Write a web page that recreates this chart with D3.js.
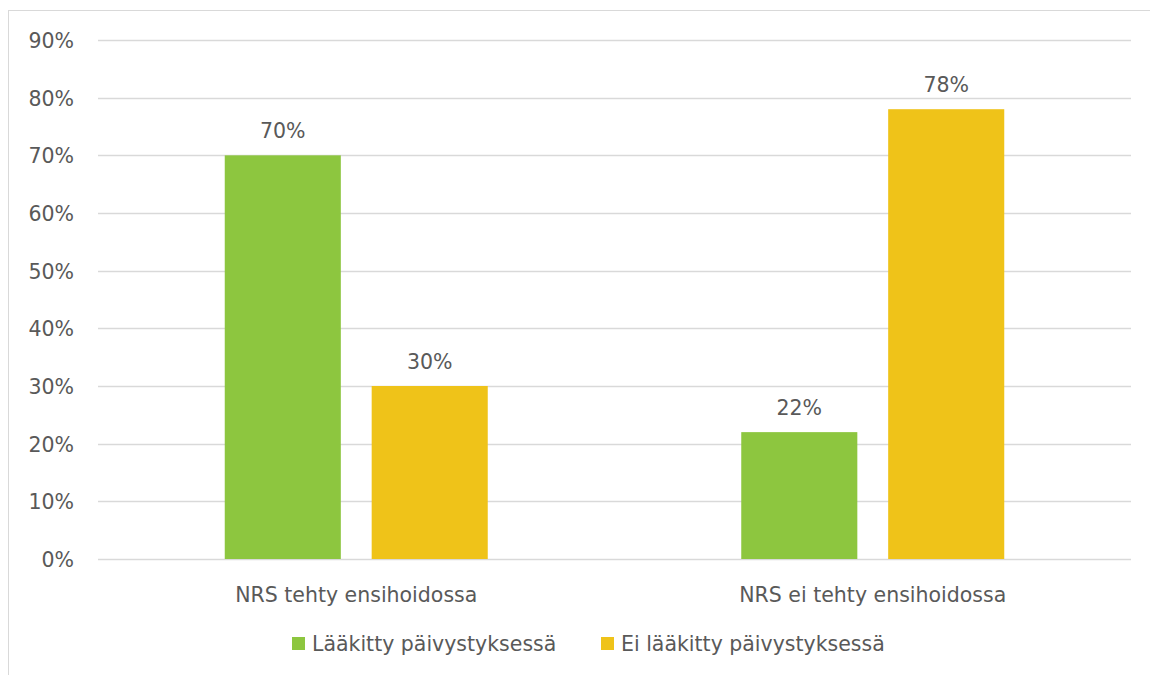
<!DOCTYPE html>
<html>
<head>
<meta charset="utf-8">
<script src="https://cdn.jsdelivr.net/npm/d3@7"></script>
<style>
  body { margin: 0; background: #fff; }
  text { font-family: "DejaVu Sans", Verdana, sans-serif; fill: #595959; }
</style>
</head>
<body>
<svg id="chart" width="1150" height="675"></svg>
<script>
// data
const categories = ['NRS tehty ensihoidossa', 'NRS ei tehty ensihoidossa']
const seriesNames = ['Lääkitty päivystyksessä', 'Ei lääkitty päivystyksessä']
const treated = [0.70, 0.22]
const notTreated = [0.30, 0.78]
const tickValues = [0, 0.1, 0.2, 0.3, 0.4, 0.5, 0.6, 0.7, 0.8, 0.9]
const colors = ['#8DC63F', '#EFC319']

const width = 1150
const height = 675
const margin = { top: 40, right: 19, bottom: 116, left: 98 }
const fontSize = 20.5

const svg = d3.select('#chart')

// outer frame
svg.append('rect')
  .attr('x', 8.5).attr('y', 10.5)
  .attr('width', width).attr('height', height)
  .attr('fill', 'none')
  .attr('stroke', '#d9d9d9')

const plotW = width - margin.left - margin.right
const plotH = height - margin.top - margin.bottom

const g = svg.append('g')
  .attr('transform', `translate(${margin.left},${margin.top})`)

const x0 = d3.scaleBand().domain(categories).range([0, plotW])
const x1 = d3.scaleBand().domain(seriesNames)
  .range([x0.bandwidth() / 2 - 131.5, x0.bandwidth() / 2 + 131.5])
  .paddingInner(0.21)
const y = d3.scaleLinear().domain([0, 0.9]).range([plotH, 0])

// grid
g.append('g').attr('id', 'grid')
  .selectAll('line')
  .data(tickValues)
  .join('line')
  .attr('x1', 0).attr('x2', plotW)
  .attr('y1', d => Math.round(y(d)) + 0.5)
  .attr('y2', d => Math.round(y(d)) + 0.5)
  .attr('stroke', '#d9d9d9')
  .attr('stroke-width', 1.3)

// y axis labels
const yAxis = g.append('g').attr('id', 'yAxis')
  .call(d3.axisLeft(y).tickValues(tickValues).tickFormat(d3.format('.0%')).tickSize(0).tickPadding(24))
yAxis.select('.domain').remove()
yAxis.selectAll('text')
  .attr('font-size', fontSize)
  .attr('dy', '0.36em')
  .attr('fill', '#595959')
  .style('font-family', '"DejaVu Sans", Verdana, sans-serif')

// bars
const rows = categories.map((c, i) => ({ cat: c, values: [treated[i], notTreated[i]] }))

const groups = g.selectAll('.cat')
  .data(rows)
  .join('g')
  .attr('class', 'cat')
  .attr('transform', d => `translate(${x0(d.cat)},0)`)

groups.selectAll('rect')
  .data(d => d.values.map((v, i) => ({ key: seriesNames[i], v, i })))
  .join('rect')
  .attr('x', d => x1(d.key))
  .attr('width', x1.bandwidth())
  .attr('y', d => y(d.v))
  .attr('height', d => y(0) - y(d.v))
  .attr('fill', d => colors[d.i])

groups.selectAll('.val')
  .data(d => d.values.map((v, i) => ({ key: seriesNames[i], v, i })))
  .join('text')
  .attr('class', 'val')
  .attr('x', d => x1(d.key) + x1.bandwidth() / 2)
  .attr('y', d => y(d.v) - 17)
  .attr('text-anchor', 'middle')
  .attr('font-size', fontSize)
  .text(d => d3.format('.0%')(d.v))

// x axis labels
g.selectAll('.catLabel')
  .data(categories)
  .join('text')
  .attr('class', 'catLabel')
  .attr('x', d => x0(d) + x0.bandwidth() / 2)
  .attr('y', plotH + 43)
  .attr('text-anchor', 'middle')
  .attr('font-size', fontSize)
  .text(d => d)

// legend
const legend = svg.append('g').attr('id', 'legend')
const items = legend.selectAll('g')
  .data(seriesNames)
  .join('g')
  .attr('transform', (d, i) => `translate(${i === 0 ? 292 : 601},637)`)
items.append('rect')
  .attr('width', 13).attr('height', 13)
  .attr('fill', (d, i) => colors[i])
items.append('text')
  .attr('x', 20).attr('y', 14)
  .attr('font-size', fontSize)
  .text(d => d)
</script>
</body>
</html>
